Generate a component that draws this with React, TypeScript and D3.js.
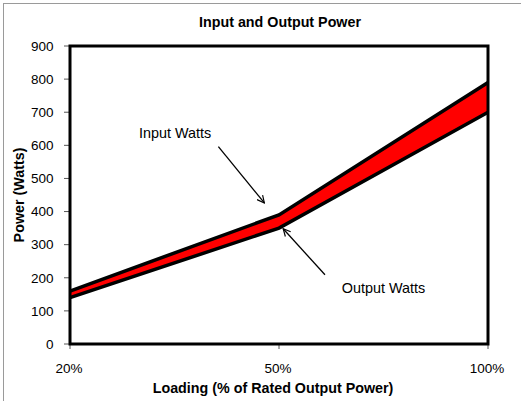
import * as d3 from "d3";

const categories = ["20%", "50%", "100%"];
const inputWatts = [160, 390, 790];
const outputWatts = [140, 350, 700];
const yMax = 900;

const W = 521;
const H = 401;
const FONT = "'Liberation Sans', Arial, sans-serif";

export default function App() {
  const plot = { left: 70, right: 488, top: 46, bottom: 344 };

  const x = d3.scalePoint<string>().domain(categories).range([plot.left, plot.right]);
  // continuous index scale, used to anchor the callouts
  const xi = d3.scaleLinear().domain([0, categories.length - 1]).range([plot.left, plot.right]);
  const y = d3.scaleLinear().domain([0, yMax]).range([plot.bottom, plot.top]);

  const rows = categories.map((c, i) => ({ c, inp: inputWatts[i], out: outputWatts[i] }));

  const band = d3
    .area<(typeof rows)[number]>()
    .x((d) => x(d.c)!)
    .y0((d) => y(d.out))
    .y1((d) => y(d.inp));
  const inLine = d3.line<(typeof rows)[number]>().x((d) => x(d.c)!).y((d) => y(d.inp));
  const outLine = d3.line<(typeof rows)[number]>().x((d) => x(d.c)!).y((d) => y(d.out));

  // callouts: [text x idx, text y, tail idx, tail y, tip idx, tip y]
  const callouts = [
    { label: "Input Watts", tx: 0.33, ty: 623, x1: 0.71, y1: 596, x2: 0.93, y2: 426 },
    { label: "Output Watts", tx: 1.3, ty: 154, x1: 1.22, y1: 209, x2: 1.02, y2: 348 },
  ];

  return (
    <svg
      width={W}
      height={H}
      style={{ position: "absolute", left: 0, top: 0, background: "#fff", fontFamily: FONT }}
    >
      <defs>
        <marker
          id="open-arrow"
          viewBox="0 0 10 10"
          refX="9"
          refY="5"
          markerWidth="9"
          markerHeight="9"
          markerUnits="userSpaceOnUse"
          orient="auto"
        >
          <path d="M1,1 L9,5 L1,9" fill="none" stroke="#000" strokeWidth={1.3} />
        </marker>
      </defs>

      {/* outer chart border */}
      <rect x={3.5} y={3.5} width={600} height={600} fill="none" stroke="#9a9a9a" />

      <text x={280} y={27} textAnchor="middle" fontSize={14.3} fontWeight="bold" fill="#000">
        Input and Output Power
      </text>

      {/* y ticks */}
      {y.ticks(9).map((t) => (
        <g key={t}>
          <line x1={plot.left - 6} x2={plot.left} y1={y(t)} y2={y(t)} stroke="#555" />
          <text x={53.5} y={y(t)} dy="0.35em" textAnchor="end" fontSize={13.5} fill="#000">
            {t}
          </text>
        </g>
      ))}

      {/* x ticks */}
      {categories.map((c) => (
        <g key={c}>
          <line x1={x(c)} x2={x(c)} y1={plot.bottom} y2={plot.bottom + 5} stroke="#555" />
          <text x={x(c)! - 1} y={373} textAnchor="middle" fontSize={13.5} fill="#000">
            {c}
          </text>
        </g>
      ))}

      <text x={273} y={393} textAnchor="middle" fontSize={14.3} fontWeight="bold" fill="#000">
        Loading (% of Rated Output Power)
      </text>
      <text
        transform={`translate(23.5,${(plot.top + plot.bottom) / 2}) rotate(-90)`}
        textAnchor="middle"
        fontSize={14.3}
        fontWeight="bold"
        fill="#000"
      >
        Power (Watts)
      </text>

      <path d={band(rows)!} fill="#ff0000" />
      <path d={inLine(rows)!} fill="none" stroke="#000" strokeWidth={3.5} />
      <path d={outLine(rows)!} fill="none" stroke="#000" strokeWidth={3.5} />

      {callouts.map((a) => (
        <g key={a.label}>
          <text x={xi(a.tx)} y={y(a.ty)} fontSize={14.4} fill="#000">
            {a.label}
          </text>
          <line
            x1={xi(a.x1)}
            y1={y(a.y1)}
            x2={xi(a.x2)}
            y2={y(a.y2)}
            stroke="#000"
            strokeWidth={1.3}
            markerEnd="url(#open-arrow)"
          />
        </g>
      ))}

      <rect
        x={plot.left}
        y={plot.top}
        width={plot.right - plot.left}
        height={plot.bottom - plot.top}
        fill="none"
        stroke="#000"
        strokeWidth={3}
      />
    </svg>
  );
}
